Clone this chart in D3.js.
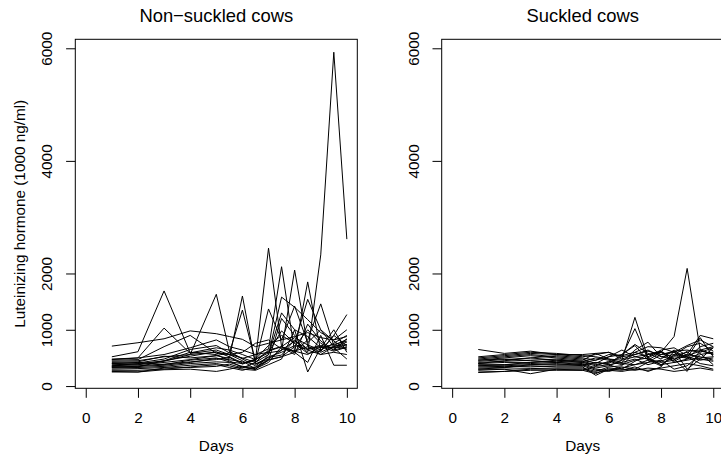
<!DOCTYPE html>
<html>
<head>
<meta charset="utf-8">
<script src="https://cdn.jsdelivr.net/npm/d3@7"></script>
<style>
  body { margin: 0; background: #fff; }
  svg text { font-family: "Liberation Sans", Arial, Helvetica, sans-serif; fill: #000; }
</style>
</head>
<body>
<svg id="graph"></svg>
<script>
// sampling days (same for both groups)
var days = [1, 2, 3, 4, 5, 5.5, 6, 6.5, 7, 7.5, 8, 8.5, 9, 9.5, 10];

// one row per cow, LH values
var nonSuckled = [
  [710, 770, 840, 980, 930, 880, 830, 700, 760, 820, 880, 950, 860, 820, 880],
  [520, 610, 1690, 590, 680, 640, 560, 470, 620, 700, 860, 730, 640, 760, 900],
  [470, 500, 1030, 580, 640, 560, 500, 420, 560, 1580, 1400, 1180, 950, 820, 1000],
  [440, 450, 520, 560, 1630, 620, 480, 360, 520, 600, 720, 650, 700, 620, 690],
  [420, 430, 530, 500, 540, 490, 1600, 390, 480, 640, 800, 660, 720, 680, 730],
  [400, 410, 480, 650, 720, 590, 1350, 430, 1370, 820, 1420, 770, 1000, 800, 640],
  [380, 390, 450, 530, 610, 520, 410, 460, 2450, 700, 600, 1850, 620, 900, 1270],
  [360, 380, 420, 470, 540, 590, 490, 560, 660, 2120, 610, 820, 1460, 720, 830],
  [350, 360, 390, 430, 470, 510, 390, 470, 590, 630, 2060, 710, 600, 710, 740],
  [340, 350, 370, 420, 490, 470, 430, 390, 510, 550, 820, 600, 2330, 5930, 2610],
  [330, 340, 450, 600, 560, 450, 330, 310, 420, 700, 560, 1100, 800, 640, 700],
  [320, 330, 350, 400, 430, 420, 350, 330, 460, 1200, 900, 640, 560, 600, 560],
  [300, 310, 330, 370, 400, 360, 300, 280, 380, 480, 1000, 250, 680, 740, 800],
  [280, 280, 300, 340, 380, 330, 280, 340, 470, 520, 600, 420, 900, 370, 370],
  [260, 250, 320, 330, 350, 390, 320, 420, 640, 700, 620, 560, 700, 680, 480],
  [250, 250, 290, 300, 260, 300, 350, 290, 560, 1300, 1000, 880, 680, 1000, 600],
  [460, 470, 700, 900, 580, 560, 450, 300, 460, 520, 700, 1000, 760, 640, 840],
  [480, 500, 560, 680, 820, 700, 640, 560, 600, 980, 760, 580, 620, 900, 720],
  [400, 420, 380, 460, 500, 430, 400, 480, 720, 900, 760, 1540, 1000, 700, 780],
  [360, 400, 440, 560, 600, 560, 600, 760, 820, 660, 620, 700, 560, 700, 660]
];

var suckled = [
  [650, 580, 620, 560, 560, 580, 600, 480, 560, 620, 560, 620, 640, 600, 680],
  [520, 560, 600, 580, 540, 520, 480, 460, 1220, 500, 620, 480, 560, 900, 840],
  [500, 540, 580, 560, 520, 560, 600, 520, 1020, 480, 380, 520, 500, 860, 520],
  [480, 520, 560, 520, 480, 400, 520, 560, 720, 460, 600, 880, 2090, 640, 560],
  [460, 500, 540, 500, 460, 580, 480, 420, 640, 780, 520, 560, 700, 760, 620],
  [420, 440, 460, 480, 440, 380, 420, 520, 560, 640, 520, 480, 260, 640, 700],
  [400, 420, 420, 440, 420, 360, 440, 380, 460, 500, 380, 420, 480, 580, 380],
  [380, 380, 400, 420, 400, 320, 360, 460, 520, 560, 600, 440, 560, 520, 460],
  [360, 360, 380, 380, 380, 300, 280, 340, 300, 420, 460, 300, 360, 560, 600],
  [340, 350, 340, 360, 360, 280, 260, 320, 380, 460, 360, 560, 520, 460, 500],
  [320, 330, 360, 340, 340, 190, 300, 280, 340, 260, 340, 620, 300, 480, 680],
  [300, 300, 310, 320, 320, 260, 340, 360, 600, 520, 640, 680, 540, 620, 580],
  [280, 300, 220, 300, 300, 240, 280, 260, 300, 280, 320, 360, 400, 360, 300],
  [250, 260, 300, 300, 280, 220, 320, 300, 280, 320, 300, 260, 290, 320, 280],
  [240, 260, 280, 280, 280, 350, 380, 420, 480, 380, 440, 540, 600, 480, 440],
  [400, 450, 500, 460, 420, 460, 560, 540, 600, 700, 680, 600, 720, 820, 700],
  [460, 480, 450, 420, 380, 420, 400, 560, 740, 580, 480, 640, 480, 700, 760],
  [300, 330, 380, 400, 360, 420, 380, 300, 440, 560, 620, 420, 460, 500, 520],
  [440, 470, 500, 540, 500, 460, 520, 640, 520, 480, 420, 460, 620, 640, 560],
  [360, 380, 420, 460, 440, 500, 460, 400, 380, 420, 560, 600, 520, 400, 360]
];

var xTicks = [0, 2, 4, 6, 8, 10];
var yTicks = [0, 1000, 2000, 4000, 6000];
var titles = ["Non\u2212suckled cows", "Suckled cows"];
var xLabel = "Days";
var yLabel = "Luteinizing hormone (1000 ng/ml)";

var svg = d3.select("#graph")
    .attr("width", 721)
    .attr("height", 459);

// plot box of one panel; the second panel is shifted right
var box = {left: 75.3, top: 39.3, width: 282, height: 349},
    panelShift = 366.4;

// R style limits: data range padded by 4% on each side
function pad(ext) {
  var d = (ext[1] - ext[0]) * 0.04;
  return [ext[0] - d, ext[1] + d];
}
var allVals = d3.merge(nonSuckled.concat(suckled));

var x = d3.scaleLinear().domain(pad([0, 10])).range([0, box.width]);
var y = d3.scaleLinear().domain(pad(d3.extent(allVals))).range([box.height, 0]);

var line = d3.line()
    .x(function(d, i) { return x(days[i]); })
    .y(function(d) { return y(d); });

var baseSize = 15.3;

[nonSuckled, suckled].forEach(function(group, p) {
  var g = svg.append("g")
      .attr("transform", "translate(" + (box.left + p * panelShift) + "," + box.top + ")");

  // the cows
  g.selectAll(".cow")
    .data(group)
    .enter().append("path")
      .attr("class", "cow")
      .attr("d", line)
      .attr("fill", "none")
      .attr("stroke", "#000")
      .attr("stroke-width", 1);

  // frame
  g.append("rect")
      .attr("width", box.width)
      .attr("height", box.height)
      .attr("fill", "none")
      .attr("stroke", "#000")
      .attr("stroke-width", 1);

  // x axis
  var xa = g.append("g")
      .attr("transform", "translate(0," + box.height + ")")
      .call(d3.axisBottom(x).tickValues(xTicks).tickSize(9.5).tickPadding(14.8).tickFormat(d3.format("d")));
  xa.select(".domain").remove();
  xa.selectAll("line").attr("stroke", "#000");
  xa.selectAll("text").style("font-size", baseSize + "px");

  // y axis, labels turned like R's default
  var ya = g.append("g")
      .call(d3.axisLeft(y).tickValues(yTicks).tickSize(9.2).tickFormat(d3.format("d")));
  ya.select(".domain").remove();
  ya.selectAll("line").attr("stroke", "#000");
  ya.selectAll("text")
      .attr("transform", "rotate(-90)")
      .attr("x", 0)
      .attr("y", -(box.left - 52.3))
      .attr("dy", 0)
      .style("text-anchor", "middle")
      .style("font-size", baseSize + "px");

  // title
  g.append("text")
      .attr("x", box.width / 2)
      .attr("y", 21.5 - box.top)
      .attr("text-anchor", "middle")
      .style("font-size", "18.4px")
      .text(titles[p]);

  // x label
  g.append("text")
      .attr("x", box.width / 2)
      .attr("y", 451.5 - box.top)
      .attr("text-anchor", "middle")
      .style("font-size", baseSize + "px")
      .text(xLabel);

  // y label only on the first panel
  if (p === 0) {
    g.append("text")
        .attr("transform", "translate(" + (24.5 - box.left) + "," + box.height / 2 + ") rotate(-90)")
        .attr("text-anchor", "middle")
        .style("font-size", baseSize + "px")
        .text(yLabel);
  }
});
</script>
</body>
</html>
